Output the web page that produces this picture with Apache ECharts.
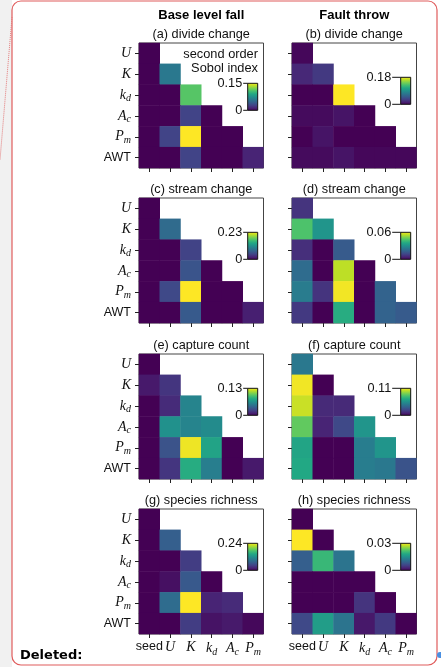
<!DOCTYPE html>
<html>
<head>
<meta charset="utf-8">
<script src="https://cdn.jsdelivr.net/npm/echarts@6/dist/echarts.min.js"></script>
<style>
  html, body { margin: 0; padding: 0; background: #fff; }
  #chart { width: 441px; height: 667px; }
</style>
</head>
<body>
<div id="chart"></div>
<script>
// categories
const rowNames = ['U', 'K', 'kd', 'Ac', 'Pm', 'AWT'];
const colNames = ['seed', 'U', 'K', 'kd', 'Ac', 'Pm'];
const columnHeads = ['Base level fall', 'Fault throw'];
const panelTitles = ['(a) divide change', '(b) divide change', '(c) stream change', '(d) stream change',
    '(e) capture count', '(f) capture count', '(g) species richness', '(h) species richness'];
// colorbar top tick labels
const colorbarMax = [0.15, 0.18, 0.23, 0.06, 0.13, 0.11, 0.24, 0.03];

// second order Sobol indices, lower triangle, row by row (U ... AWT)
const divideBase = [[0], [0, 0.06], [0, 0, 0.11], [0, 0, 0.03, 0], [0, 0.03, 0.15, 0, 0], [0, 0, 0.03, 0, 0, 0.015]];
const divideFault = [[0.003], [0.02, 0.03], [0, 0, 0.18], [0.005, 0.005, 0.01, 0], [0, 0.01, 0, 0, 0], [0.005, 0.005, 0.01, 0.003, 0.003, 0.003]];
const streamBase = [[0], [0, 0.08], [0, 0, 0.045], [0, 0, 0.06, 0], [0, 0.05, 0.23, 0, 0], [0, 0, 0.065, 0, 0, 0.02]];
const streamFault = [[0.009], [0.043, 0.031], [0.008, 0, 0.017], [0.021, 0, 0.054, 0], [0.025, 0.009, 0.059, 0, 0.019], [0.01, 0, 0.037, 0, 0.019, 0.017]];
const captureBase = [[0], [0.009, 0.02], [0, 0.016, 0.058], [0, 0.065, 0.058, 0.062], [0, 0.033, 0.127, 0.075, 0], [0, 0.02, 0.08, 0.055, 0, 0.009]];
const captureFault = [[0.044], [0.108, 0], [0.101, 0.013, 0.013], [0.083, 0.011, 0.024, 0.057], [0.064, 0, 0, 0.046, 0.057], [0.066, 0, 0, 0.046, 0.044, 0.028]];
const richnessBase = [[0], [0, 0.072], [0, 0, 0.043], [0, 0.01, 0.067, 0], [0, 0.084, 0.24, 0.024, 0.029], [0, 0, 0.043, 0.012, 0.017, 0.005]];
const richnessFault = [[0], [0.03, 0], [0.009, 0.02, 0.0115], [0, 0, 0, 0], [0, 0, 0, 0.0045, 0], [0.0065, 0.0165, 0.0115, 0.002, 0.005, 0]];

const panels = [divideBase, divideFault, streamBase, streamFault, captureBase, captureFault, richnessBase, richnessFault];

const viridis = ['#440154', '#482475', '#414487', '#355f8d', '#2a788e', '#21918c',
    '#22a884', '#44bf70', '#7ad151', '#bddf26', '#fde725'];

const gridLefts = [139, 292];
const gridTops = [43, 198, 354, 509];
const gridW = 124.5, gridH = 125;
const sans = '"Liberation Sans", Arial, sans-serif';
const serif = '"Liberation Serif", "Times New Roman", serif';

const rich = {
    i: {fontFamily: serif, fontStyle: 'italic', fontSize: 14, color: '#111'},
    s: {fontFamily: serif, fontStyle: 'italic', fontSize: 10, color: '#111', padding: [7, 0, 0, 0]},
    n: {fontFamily: sans, fontSize: 12.5, color: '#111'}
};
function fmtLabel(name) {
    if (name === 'AWT' || name === 'seed') return '{n|' + name + '}';
    if (name.length === 2) return '{i|' + name[0] + '}{s|' + name[1] + '}';
    return '{i|' + name + '}';
}

const chart = echarts.init(document.getElementById('chart'));

const grid = [], xAxis = [], yAxis = [], series = [], visualMap = [];
const graphic = [
    {type: 'rect', shape: {x: 0, y: 0, width: 12, height: 667}, style: {fill: '#f1f1f1'}, silent: true},
    {type: 'rect', shape: {x: 12, y: 1, width: 425, height: 664, r: 9}, style: {fill: 'none', stroke: '#e05c5c', lineWidth: 1.2}, silent: true},
    {type: 'line', shape: {x1: 12, y1: 17, x2: 0, y2: 160}, style: {stroke: '#e47a7a', lineWidth: 1, lineDash: [1, 1]}, silent: true},
    {type: 'circle', shape: {cx: 440, cy: 655, r: 3}, style: {fill: '#4a90e2'}, silent: true},
    {type: 'text', style: {text: 'Deleted:', x: 20, y: 656, fill: '#000', font: 'bold 13px "DejaVu Sans", sans-serif', align: 'left', verticalAlign: 'middle', textAlign: 'left', textVerticalAlign: 'middle'}}
];

columnHeads.forEach((t, c) => {
    graphic.push({type: 'text', style: {text: t, x: gridLefts[c] + gridW / 2, y: 15, fill: '#000',
        font: 'bold 13px ' + sans, align: 'center', verticalAlign: 'middle', textAlign: 'center', textVerticalAlign: 'middle'}});
});
graphic.push({type: 'text', style: {text: 'second order\nSobol index', x: 258, y: 61.5, fill: '#111', lineHeight: 13.5,
    font: '12.8px ' + sans, align: 'right', verticalAlign: 'middle', textAlign: 'right', textVerticalAlign: 'middle'}});

panels.forEach((p, i) => {
    const col = i % 2, row = Math.floor(i / 2);
    const left = gridLefts[col], top = gridTops[row];
    grid.push({left: left, top: top, width: gridW, height: gridH, show: true,
        borderColor: '#444', borderWidth: 1, backgroundColor: 'transparent'});
    xAxis.push({
        type: 'category', gridIndex: i, data: colNames,
        axisLine: {show: false},
        axisTick: {show: true, interval: 0, alignWithLabel: true, length: 4, lineStyle: {color: '#222'}},
        axisLabel: {show: row === 3, interval: 0, margin: 6, formatter: fmtLabel, rich: rich},
        splitLine: {show: false}
    });
    yAxis.push({
        type: 'category', gridIndex: i, data: rowNames, inverse: true,
        axisLine: {show: false},
        axisTick: {show: true, interval: 0, alignWithLabel: true, length: 4, lineStyle: {color: '#222'}},
        axisLabel: {show: col === 0, interval: 0, margin: 8, formatter: fmtLabel, rich: rich},
        splitLine: {show: false}
    });
    const data = [];
    p.forEach((vals, r) => vals.forEach((v, c) => data.push([c, r, v])));
    series.push({type: 'heatmap', xAxisIndex: i, yAxisIndex: i, data: data,
        itemStyle: {borderWidth: 0}, emphasis: {disabled: true}});
    visualMap.push({type: 'continuous', show: false, seriesIndex: i, dimension: 2,
        min: 0, max: colorbarMax[i], inRange: {color: viridis}});

    // subplot title
    graphic.push({type: 'text', style: {text: panelTitles[i], x: left + gridW / 2, y: top - 8.5, fill: '#111',
        font: '12.7px ' + sans, align: 'center', verticalAlign: 'middle', textAlign: 'center', textVerticalAlign: 'middle'}});

    // colorbar
    const cx = left + gridW - 15.8;
    const cy = top + (i === 0 ? 40.3 : 34.3);
    const ch = 27, cw = 10;
    const tickLen = col === 0 ? 4.5 : 8.5;
    graphic.push({type: 'rect', shape: {x: cx, y: cy, width: cw, height: ch},
        style: {fill: new echarts.graphic.LinearGradient(0, 1, 0, 0,
            viridis.map((c, k) => ({offset: k / (viridis.length - 1), color: c}))),
            stroke: '#111', lineWidth: 1}, silent: true});
    [cy, cy + ch].forEach((ty, k) => {
        graphic.push({type: 'line', shape: {x1: cx - tickLen, y1: ty, x2: cx, y2: ty},
            style: {stroke: '#111', lineWidth: 1}, silent: true});
        graphic.push({type: 'text', style: {text: k === 0 ? String(colorbarMax[i]) : '0',
            x: cx - tickLen - 1, y: ty + 0.5, fill: '#111', font: '12.7px ' + sans,
            align: 'right', verticalAlign: 'middle', textAlign: 'right', textVerticalAlign: 'middle'}});
    });
});

chart.setOption({
    backgroundColor: '#fff',
    animation: false,
    grid: grid,
    xAxis: xAxis,
    yAxis: yAxis,
    visualMap: visualMap,
    series: series,
    graphic: graphic
});
</script>
</body>
</html>
